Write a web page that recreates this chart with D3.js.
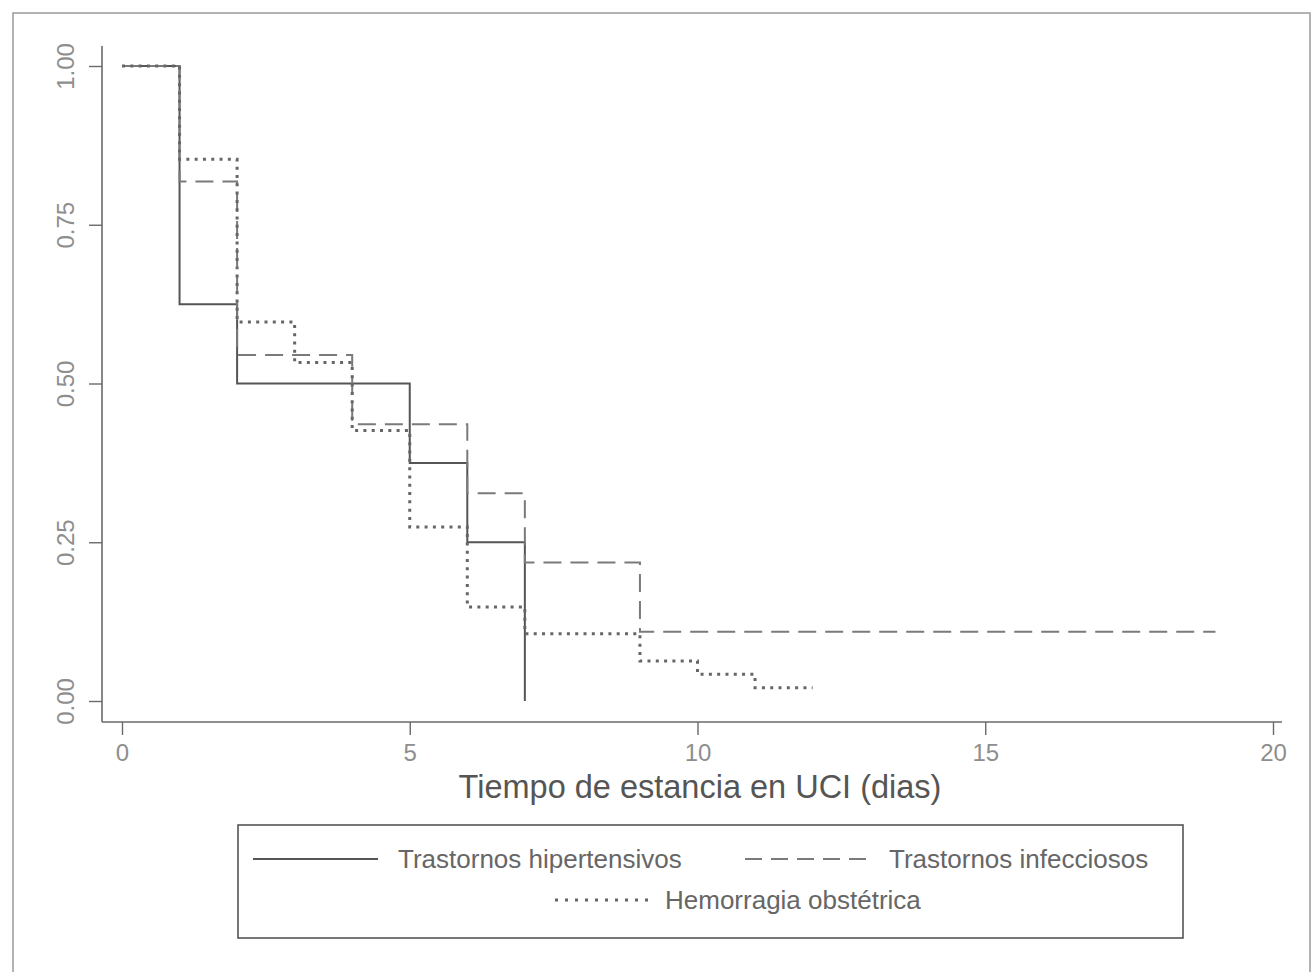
<!DOCTYPE html>
<html>
<head>
<meta charset="utf-8">
<script src="https://cdn.jsdelivr.net/npm/d3@7"></script>
<style>
  html, body { margin: 0; padding: 0; background: #fff; }
  svg { display: block; font-family: "Liberation Sans", Arial, sans-serif; }
</style>
</head>
<body>
<svg id="chart" width="1314" height="972"></svg>
<script>
// ---- data ----
const seriesNames = ["Trastornos hipertensivos", "Trastornos infecciosos", "Hemorragia obstétrica"];
const timesHip = [0, 1, 2, 5, 6, 7];
const survHip  = [1, 0.625, 0.5, 0.375, 0.25, 0];
const timesInf = [0, 1, 2, 4, 6, 7, 9, 19];
const survInf  = [1, 0.818, 0.545, 0.436, 0.327, 0.218, 0.109, 0.109];
const timesHem = [0, 1, 2, 3, 4, 5, 6, 7, 9, 10, 11, 12];
const survHem  = [1, 0.853, 0.597, 0.533, 0.426, 0.274, 0.148, 0.106, 0.063, 0.042, 0.021, 0.021];
const xTicks = [0, 5, 10, 15, 20];
const yTicks = [0, 0.25, 0.5, 0.75, 1];
const xTitle = "Tiempo de estancia en UCI (dias)";

const svg = d3.select("#chart");

// outer frame
svg.append("rect").attr("x", 13).attr("y", 13).attr("width", 1297).attr("height", 975)
  .attr("fill", "none").attr("stroke", "#9a9a9a").attr("stroke-width", 1.5);

const x = d3.scaleLinear().domain([0, 20]).range([122, 1273]);
const y = d3.scaleLinear().domain([0, 1]).range([701, 66]);

const axisColor = "#6a6a6a";
// axis lines
svg.append("line").attr("x1", 102).attr("x2", 102).attr("y1", 46).attr("y2", 722)
  .attr("stroke", axisColor).attr("stroke-width", 1.6);
svg.append("line").attr("x1", 102).attr("x2", 1282).attr("y1", 722).attr("y2", 722)
  .attr("stroke", axisColor).attr("stroke-width", 1.6);

// y axis
const gy = svg.append("g").attr("transform", "translate(102,0)")
  .call(d3.axisLeft(y).tickValues(yTicks).tickSize(13).tickFormat(d3.format(".2f")));
gy.select(".domain").remove();
gy.selectAll(".tick line").attr("stroke", axisColor).attr("stroke-width", 1.4);
gy.selectAll(".tick text")
  .attr("x", 0).attr("y", 0).attr("dy", null)
  .attr("transform", "translate(-37,0) rotate(-90)")
  .attr("text-anchor", "middle")
  .attr("dominant-baseline", "central")
  .attr("fill", "#8e8e8e").attr("font-size", 24)
  .attr("font-family", "'Liberation Sans', Arial, sans-serif");

// x axis
const gx = svg.append("g").attr("transform", "translate(0,722)")
  .call(d3.axisBottom(x).tickValues(xTicks).tickSize(13).tickFormat(d3.format("d")));
gx.select(".domain").remove();
gx.selectAll(".tick line").attr("stroke", axisColor).attr("stroke-width", 1.4);
gx.selectAll(".tick text").attr("y", 22).attr("dy", "0.71em")
  .attr("fill", "#8e8e8e").attr("font-size", 24)
  .attr("font-family", "'Liberation Sans', Arial, sans-serif");

svg.append("text").attr("x", 700).attr("y", 798).attr("text-anchor", "middle")
  .attr("fill", "#555").attr("font-size", 32.5).text(xTitle);

// curves
const line = d3.line().x(d => x(d[0])).y(d => y(d[1])).curve(d3.curveStepAfter);
const styles = [
  { color: "#555", width: 2, dash: null },
  { color: "#7a7a7a", width: 2, dash: "18,9" },
  { color: "#666", width: 3, dash: "3,5.3" }
];
const series = [
  d3.zip(timesHip, survHip),
  d3.zip(timesInf, survInf),
  d3.zip(timesHem, survHem)
];
series.forEach((s, i) => {
  svg.append("path").datum(s).attr("d", line)
    .attr("fill", "none").attr("stroke", styles[i].color)
    .attr("stroke-width", styles[i].width)
    .attr("stroke-dasharray", styles[i].dash);
});

// legend
svg.append("rect").attr("x", 238).attr("y", 825).attr("width", 945).attr("height", 113)
  .attr("fill", "none").attr("stroke", "#555").attr("stroke-width", 1.6);
const legendItems = [
  { x1: 253, x2: 378, y: 859, tx: 398, dash: null, width: 2, color: "#555" },
  { x1: 745, x2: 870, y: 859, tx: 889, dash: "17,9", width: 2, color: "#7a7a7a" },
  { x1: 555, x2: 652, y: 900, tx: 665, dash: "3,7", width: 3, color: "#666" }
];
legendItems.forEach((it, i) => {
  svg.append("line").attr("x1", it.x1).attr("x2", it.x2).attr("y1", it.y).attr("y2", it.y)
    .attr("stroke", it.color).attr("stroke-width", it.width).attr("stroke-dasharray", it.dash);
  svg.append("text").attr("x", it.tx).attr("y", it.y).attr("dy", "0.35em")
    .attr("fill", "#666").attr("font-size", 26).text(seriesNames[i]);
});
</script>
</body>
</html>
